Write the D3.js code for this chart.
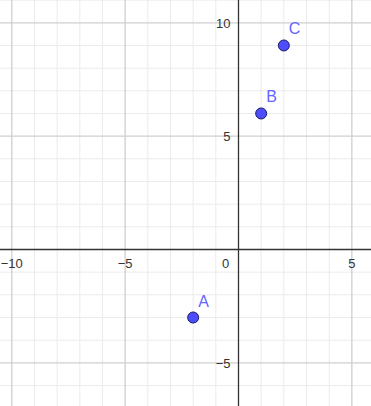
<!DOCTYPE html>
<html>
<head>
<meta charset="utf-8">
<script src="https://cdn.jsdelivr.net/npm/d3@7.9.0/dist/d3.min.js"></script>
<style>
  html, body { margin: 0; padding: 0; background: #fff; }
  svg { display: block; font-family: "Liberation Sans", Arial, sans-serif; }
</style>
</head>
<body>
<svg id="chart" width="371" height="406"></svg>
<script>
const pointNames = ['A', 'B', 'C'];
const pointX = [-2, 1, 2];
const pointY = [-3, 6, 9];
const xTickLabels = [-10, -5, 0, 5];
const yTickLabels = [-5, 5, 10];

const width = 371, height = 406;
const unit = 22.67;
const originX = 238.5, originY = 249.5;

const x = d3.scaleLinear()
    .domain([-originX / unit, (width - originX) / unit])
    .range([0, width]);
const y = d3.scaleLinear()
    .domain([originY / unit, -(height - originY) / unit])
    .range([0, height]);

const svg = d3.select('#chart');
const fmt = v => v < 0 ? '\u2212' + Math.abs(v) : String(v);

// grid: minor every 1, major every 5
const xs = d3.range(Math.ceil(x.domain()[0]), Math.floor(x.domain()[1]) + 1);
const ys = d3.range(Math.ceil(y.domain()[1]), Math.floor(y.domain()[0]) + 1);

const grid = svg.append('g');
grid.selectAll('line.vx')
    .data(xs.filter(v => v % 5 !== 0))
    .join('line')
    .attr('x1', d => x(d)).attr('x2', d => x(d))
    .attr('y1', 0).attr('y2', height)
    .attr('stroke', '#ebebeb').attr('stroke-width', 1);
grid.selectAll('line.hy')
    .data(ys.filter(v => v % 5 !== 0))
    .join('line')
    .attr('class', 'hy')
    .attr('y1', d => y(d)).attr('y2', d => y(d))
    .attr('x1', 0).attr('x2', width)
    .attr('stroke', '#ebebeb').attr('stroke-width', 1);
grid.selectAll('line.mx')
    .data(xs.filter(v => v % 5 === 0 && v !== 0))
    .join('line')
    .attr('class', 'mx')
    .attr('x1', d => x(d)).attr('x2', d => x(d))
    .attr('y1', 0).attr('y2', height)
    .attr('stroke', '#cfcfcf').attr('stroke-width', 1.3);
grid.selectAll('line.my')
    .data(ys.filter(v => v % 5 === 0 && v !== 0))
    .join('line')
    .attr('class', 'my')
    .attr('y1', d => y(d)).attr('y2', d => y(d))
    .attr('x1', 0).attr('x2', width)
    .attr('stroke', '#cfcfcf').attr('stroke-width', 1.3);

// axes
svg.append('line')
    .attr('x1', 0).attr('x2', width)
    .attr('y1', y(0)).attr('y2', y(0))
    .attr('stroke', '#333').attr('stroke-width', 1.3);
svg.append('line')
    .attr('x1', x(0)).attr('x2', x(0))
    .attr('y1', 0).attr('y2', height)
    .attr('stroke', '#333').attr('stroke-width', 1.3);

// tick labels
svg.append('g').selectAll('text')
    .data(xTickLabels)
    .join('text')
    .attr('x', d => d === 0 ? x(0) - 13 : x(d))
    .attr('y', y(0) + 18)
    .attr('text-anchor', 'middle')
    .attr('font-size', 13)
    .attr('fill', '#333')
    .text(fmt);

svg.append('g').selectAll('text')
    .data(yTickLabels)
    .join('text')
    .attr('x', x(0) - 8)
    .attr('y', d => y(d) + 5)
    .attr('text-anchor', 'end')
    .attr('font-size', 13)
    .attr('fill', '#333')
    .text(fmt);

// points
const pts = pointNames.map((n, i) => ({ name: n, x: pointX[i], y: pointY[i] }));
svg.append('g').selectAll('circle')
    .data(pts)
    .join('circle')
    .attr('cx', d => x(d.x))
    .attr('cy', d => y(d.y))
    .attr('r', 5.5)
    .attr('fill', '#4d4dff')
    .attr('stroke', '#1a1a66')
    .attr('stroke-width', 1);

svg.append('g').selectAll('text')
    .data(pts)
    .join('text')
    .attr('x', d => x(d.x) + 5)
    .attr('y', d => y(d.y) - 11)
    .attr('font-size', 16)
    .attr('fill', '#6464ff')
    .text(d => d.name);
</script>
</body>
</html>
